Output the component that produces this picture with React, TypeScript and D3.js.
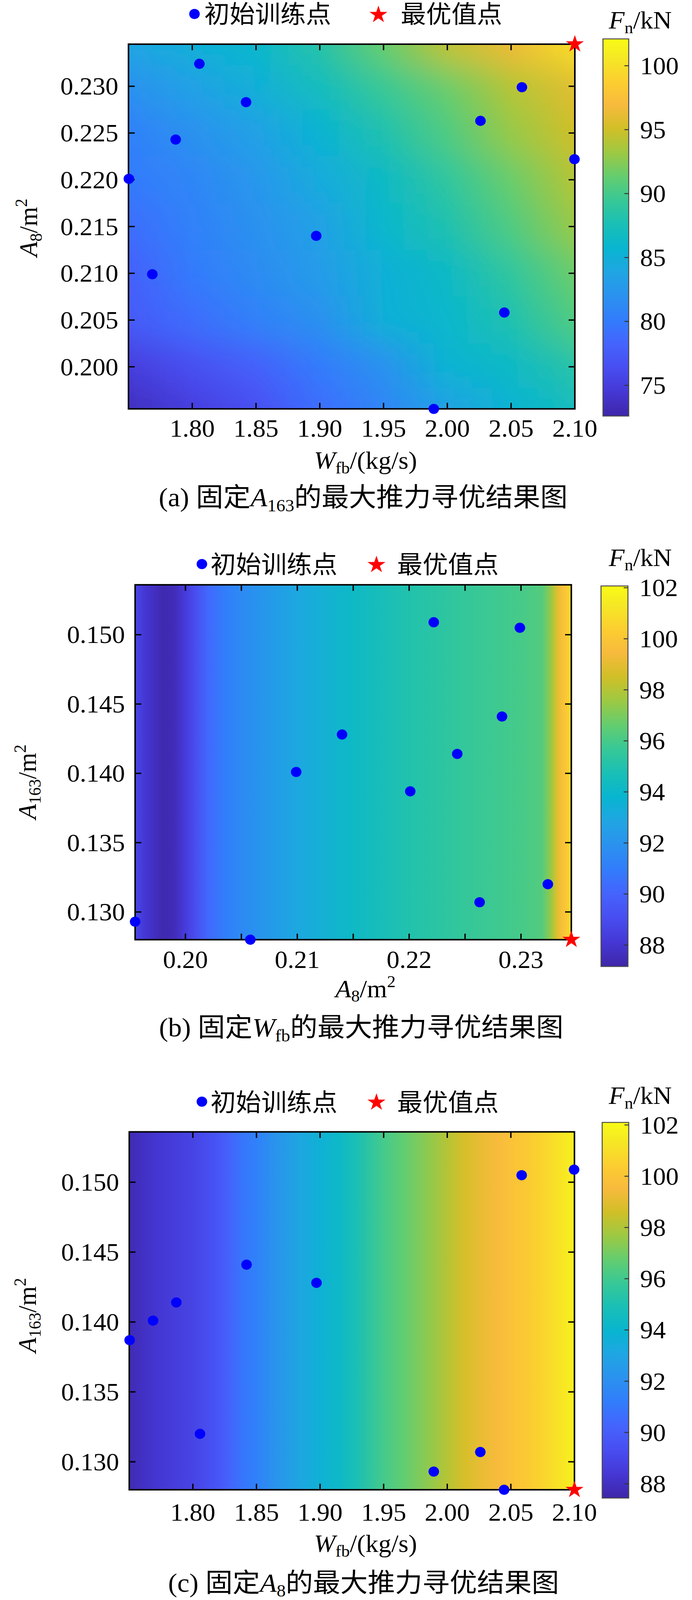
import React from 'react';
import * as d3 from 'd3';

// ---- data ----
// the same 11 initial training samples, projected on each plane
const trainW = [1.8056, 1.8422, 1.787, 1.7503, 1.7687, 1.8972, 2.026, 2.0585, 2.0997, 2.0447, 1.9894];
const trainA8 = [0.2324, 0.2283, 0.2243, 0.2201, 0.2099, 0.214, 0.2263, 0.2299, 0.2222, 0.2058, 0.1955];
const trainA163 = [0.132, 0.1441, 0.1414, 0.1387, 0.1401, 0.1428, 0.1307, 0.1505, 0.1509, 0.128, 0.1293];

// optimum point (red star)
const optW = 2.1;
const optA8 = 0.2345;
const optA163 = 0.128;

// panel (a): Fn over W x A8 (rows = A8, columns = W)
const gridWA = [1.75, 1.8, 1.85, 1.9, 1.95, 2.0, 2.05, 2.1];
const gridA8A = [0.2345, 0.23, 0.225, 0.22, 0.215, 0.21, 0.205, 0.2, 0.1955];
const fnGridA = [
  [84, 85, 86, 88.5, 91.5, 94.5, 96.5, 100],
  [82, 83.5, 85, 87, 89.5, 91.5, 94, 95.8],
  [80.5, 82, 83.5, 85.5, 88, 90.5, 93, 95],
  [80, 81, 82.5, 84.5, 86.5, 89, 91.5, 94],
  [79, 80.5, 82, 83.5, 86, 88, 90.5, 93],
  [78, 80, 81.5, 83, 85, 86.5, 89, 91.5],
  [77.5, 79, 80.5, 82, 85, 86, 88, 90.5],
  [75, 76.5, 78, 80, 82, 85.5, 86.5, 88.5],
  [73.5, 75, 76.5, 79, 81, 83.5, 85.5, 87],
];

// panel (b): Fn along A8 (constant along A163)
const profA8B = [0.1955, 0.1965, 0.198, 0.199, 0.2, 0.2008, 0.202, 0.2035, 0.205, 0.21, 0.2146, 0.22, 0.225, 0.23, 0.2319, 0.2327, 0.2332, 0.2337, 0.2345];
const profFnB = [88.8, 88.0, 87.3, 87.5, 88.3, 89.0, 90.2, 91.0, 91.6, 93.0, 94.1, 95.0, 95.6, 96.0, 96.3, 97.5, 98.8, 99.7, 100.8];

// panel (c): Fn along W (constant along A163)
const profWC = [1.75, 1.7716, 1.8, 1.8167, 1.8257, 1.839, 1.85, 1.866, 1.884, 1.9, 1.916, 1.93, 1.95, 1.966, 1.984, 2.0, 2.013, 2.027, 2.04, 2.05, 2.065, 2.081, 2.1];
const profFnC = [87.7, 88.3, 88.9, 89.5, 90.0, 90.9, 91.4, 92.3, 93.1, 93.7, 94.3, 95.0, 96.1, 96.7, 97.4, 98.1, 98.7, 99.2, 99.6, 99.9, 100.3, 100.9, 101.7];

// ticks
const ticksW = [1.8, 1.85, 1.9, 1.95, 2.0, 2.05, 2.1];
const ticksA8A = [0.2, 0.205, 0.21, 0.215, 0.22, 0.225, 0.23];
const ticksA8B = [0.2, 0.205, 0.21, 0.215, 0.22, 0.225, 0.23];
const labelsA8B = [0.2, 0.21, 0.22, 0.23];
const ticksA163 = [0.13, 0.135, 0.14, 0.145, 0.15];
const cTicksA = [75, 80, 85, 90, 95, 100];
const cTicksBC = [88, 90, 92, 94, 96, 98, 100, 102];

// MATLAB parula, sampled
const parulaIdx = [0, 4, 8, 12, 16, 20, 24, 28, 32, 36, 40, 44, 48, 52, 56, 60, 63];
const parulaRgb = [
  [0.2422, 0.1504, 0.6603], [0.2706, 0.2147, 0.8364], [0.2813, 0.3006, 0.9414], [0.2699, 0.3892, 0.9906],
  [0.1963, 0.4847, 0.9892], [0.1687, 0.5703, 0.9359], [0.1248, 0.6459, 0.8883], [0.0297, 0.7082, 0.8163],
  [0.0964, 0.75, 0.712], [0.2161, 0.7843, 0.5923], [0.3909, 0.8029, 0.4354], [0.6174, 0.7876, 0.2612],
  [0.8203, 0.7498, 0.1535], [0.9728, 0.7298, 0.2394], [0.9892, 0.8136, 0.1885], [0.9597, 0.9135, 0.1423],
  [0.9769, 0.9839, 0.0805],
];
const parulaHex = parulaRgb.map((c) => d3.rgb(c[0] * 255, c[1] * 255, c[2] * 255).formatHex());
const parula = d3.scaleLinear<string>()
  .domain(parulaIdx.map((i) => i / 63))
  .range(parulaHex)
  .interpolate(d3.interpolateRgb)
  .clamp(true);

// serif first, CJK glyphs fall back to Noto Sans CJK
const FONT = "'Liberation Serif', 'Times New Roman', 'Noto Sans CJK SC', serif";
const FS = 66;
const SUB = 44;
const W = 1772;
const H = 4238;

type Rect = { x0: number; y0: number; x1: number; y1: number };
type Lin = d3.ScaleLinear<number, number>;

interface Panel {
  id: string;
  plot: Rect;
  cbar: Rect;
  xDomain: [number, number];
  yDomain: [number, number];
  cDomain: [number, number];
  xTicks: number[];
  xLabels: number[];
  xFmt: string;
  yTicks: number[];
  cTicks: number[];
  px: number[];
  py: number[];
  star: [number, number];
  legendText: number;
  legendDot: number;
  legendX: [number, number, number, number];
  cTitleY: number;
  xTickY: number;
  xTitleY: number;
  yTitleX: number;
  yTitleY: number;
  captionY: number;
  captionX: number;
  heat: (x: Lin, y: Lin, color: (v: number) => string, p: Rect) => React.ReactNode;
  xTitle: React.ReactNode;
  yTitle: React.ReactNode;
  caption: React.ReactNode;
}

const gridHeat = (id: string, xs: number[], ys: number[], grid: number[][]) =>
  (x: Lin, y: Lin, color: (v: number) => string, p: Rect) => {
    const w = p.x1 - p.x0;
    return (
      <g>
        <defs>
          {grid.map((row, i) => (
            <linearGradient key={i} id={`${id}-r${i}`} gradientUnits="userSpaceOnUse" x1={p.x0} x2={p.x1} y1={0} y2={0}>
              {row.map((v, j) => (
                <stop key={j} offset={(x(xs[j]) - p.x0) / w} stopColor={color(v)} />
              ))}
            </linearGradient>
          ))}
          <filter id={`${id}-blur`} filterUnits="userSpaceOnUse" x={p.x0 - 20} y={p.y0 - 260} width={w + 40} height={p.y1 - p.y0 + 520}>
            <feGaussianBlur stdDeviation="0 44" />
          </filter>
          <clipPath id={`${id}-clip`}>
            <rect x={p.x0} y={p.y0} width={w} height={p.y1 - p.y0} />
          </clipPath>
        </defs>
        <g clipPath={`url(#${id}-clip)`}>
          <g filter={`url(#${id}-blur)`}>
            {ys.map((v, i) => {
              const top = i === 0 ? p.y0 - 200 : (y(ys[i - 1]) + y(v)) / 2;
              const bot = i === ys.length - 1 ? p.y1 + 200 : (y(v) + y(ys[i + 1])) / 2;
              return <rect key={i} x={p.x0} y={top} width={w} height={bot - top + 0.5} fill={`url(#${id}-r${i})`} />;
            })}
          </g>
        </g>
      </g>
    );
  };

const profileHeat = (id: string, xs: number[], vals: number[]) =>
  (x: Lin, _y: Lin, color: (v: number) => string, p: Rect) => {
    const w = p.x1 - p.x0;
    return (
      <g>
        <defs>
          <linearGradient id={`${id}-g`} gradientUnits="userSpaceOnUse" x1={p.x0} x2={p.x1} y1={0} y2={0}>
            {xs.map((v, i) => (
              <stop key={i} offset={(x(v) - p.x0) / w} stopColor={color(vals[i])} />
            ))}
          </linearGradient>
        </defs>
        <rect x={p.x0} y={p.y0} width={w} height={p.y1 - p.y0} fill={`url(#${id}-g)`} />
      </g>
    );
  };

const Sub = ({ t, d = 12 }: { t: string; d?: number }) => (
  <tspan fontSize={SUB} dy={d}>{t}</tspan>
);

const titleW = (
  <>
    <tspan fontStyle="italic">W</tspan>
    <Sub t="fb" />
    <tspan dy={-12}>/(kg/s)</tspan>
  </>
);
const titleA8 = (
  <>
    <tspan fontStyle="italic">A</tspan>
    <Sub t="8" />
    <tspan dy={-12}>/m</tspan>
    <tspan fontSize={SUB} dy={-26}>2</tspan>
  </>
);
const titleA163 = (
  <>
    <tspan fontStyle="italic">A</tspan>
    <Sub t="163" />
    <tspan dy={-12}>/m</tspan>
    <tspan fontSize={SUB} dy={-26}>2</tspan>
  </>
);

const caption = (tag: string, sym: string, sub: string) => (
  <>
    <tspan>({tag}) 固定</tspan>
    <tspan fontStyle="italic">{sym}</tspan>
    <tspan fontSize={46} dy={13}>{sub}</tspan>
    <tspan dy={-13}>的最大推力寻优结果图</tspan>
  </>
);

const panels: Panel[] = [
  {
    id: 'pa',
    plot: { x0: 329, y0: 117, x1: 1472, y1: 1083 },
    cbar: { x0: 1544, y0: 103, x1: 1610, y1: 1102 },
    xDomain: [1.75, 2.1],
    yDomain: [0.1955, 0.2345],
    cDomain: [72.6, 102.1],
    xTicks: ticksW,
    xLabels: ticksW,
    xFmt: '.2f',
    yTicks: ticksA8A,
    cTicks: cTicksA,
    px: trainW,
    py: trainA8,
    star: [optW, optA8],
    legendText: 60,
    legendDot: 37,
    legendX: [498, 523, 969, 1026],
    cTitleY: 76,
    xTickY: 1157,
    xTitleY: 1242,
    yTitleX: 95,
    yTitleY: 603,
    captionY: 1341,
    captionX: 930,
    heat: gridHeat('pa', gridWA, gridA8A, fnGridA),
    xTitle: titleW,
    yTitle: titleA8,
    caption: caption('a', 'A', '163'),
  },
  {
    id: 'pb',
    plot: { x0: 346, y0: 1549, x1: 1463, y1: 2489 },
    cbar: { x0: 1539, y0: 1552, x1: 1608, y1: 2560 },
    xDomain: [0.1955, 0.2345],
    yDomain: [0.128, 0.1536],
    cDomain: [87.16, 102.07],
    xTicks: ticksA8B,
    xLabels: labelsA8B,
    xFmt: '.2f',
    yTicks: ticksA163,
    cTicks: cTicksBC,
    px: trainA8,
    py: trainA163,
    star: [optA8, optA163],
    legendText: 1518,
    legendDot: 1494,
    legendX: [517, 539, 964, 1017],
    cTitleY: 1499,
    xTickY: 2564,
    xTitleY: 2641,
    yTitleX: 92,
    yTitleY: 2071,
    captionY: 2745,
    captionX: 925,
    heat: profileHeat('pb', profA8B, profFnB),
    xTitle: titleA8,
    yTitle: titleA163,
    caption: caption('b', 'W', 'fb'),
  },
  {
    id: 'pc',
    plot: { x0: 331, y0: 2998, x1: 1471, y1: 3946 },
    cbar: { x0: 1542, y0: 2973, x1: 1610, y1: 3968 },
    xDomain: [1.75, 2.1],
    yDomain: [0.128, 0.1536],
    cDomain: [87.44, 102.1],
    xTicks: ticksW,
    xLabels: ticksW,
    xFmt: '.2f',
    yTicks: ticksA163,
    cTicks: cTicksBC,
    px: trainW,
    py: trainA163,
    star: [optW, optA163],
    legendText: 2943,
    legendDot: 2918,
    legendX: [517, 539, 964, 1017],
    cTitleY: 2924,
    xTickY: 4028,
    xTitleY: 4111,
    yTitleX: 92,
    yTitleY: 3484,
    captionY: 4216,
    captionX: 931,
    heat: profileHeat('pc', profWC, profFnC),
    xTitle: titleW,
    yTitle: titleA163,
    caption: caption('c', 'A', '8'),
  },
];

const starPath = d3.symbol(d3.symbolStar, 660)() as string;
const TICK = 16;

const PanelView = ({ cfg }: { cfg: Panel }) => {
  const p = cfg.plot;
  const cb = cfg.cbar;
  const x = d3.scaleLinear().domain(cfg.xDomain).range([p.x0, p.x1]);
  const y = d3.scaleLinear().domain(cfg.yDomain).range([p.y1, p.y0]);
  const cNorm = d3.scaleLinear().domain(cfg.cDomain).range([0, 1]);
  const color = (v: number) => parula(cNorm(v));
  const cY = d3.scaleLinear().domain(cfg.cDomain).range([cb.y1, cb.y0]);
  const fx = d3.format(cfg.xFmt);
  const fy = d3.format('.3f');
  const [dotX, t1X, starX, t2X] = cfg.legendX;

  return (
    <g fontFamily={FONT}>
      {/* legend */}
      <circle cx={dotX} cy={cfg.legendDot} r={13.5} fill="#0000ff" />
      <text x={t1X} y={cfg.legendText} fontSize={65}>初始训练点</text>
      <path d={starPath} transform={`translate(${starX},${cfg.legendDot + 2})`} fill="#ff0000" />
      <text x={t2X} y={cfg.legendText} fontSize={65}>最优值点</text>

      {/* field */}
      {cfg.heat(x, y, color, p)}

      {/* frame and ticks */}
      <rect x={p.x0} y={p.y0} width={p.x1 - p.x0} height={p.y1 - p.y0} fill="none" stroke="#000" strokeWidth={4} />
      {cfg.xTicks.map((t) => (
        <g key={`xt${t}`} stroke="#000" strokeWidth={3.5}>
          <line x1={x(t)} x2={x(t)} y1={p.y1} y2={p.y1 - TICK} />
          <line x1={x(t)} x2={x(t)} y1={p.y0} y2={p.y0 + TICK} />
        </g>
      ))}
      {cfg.yTicks.map((t) => (
        <g key={`yt${t}`} stroke="#000" strokeWidth={3.5}>
          <line x1={p.x0} x2={p.x0 + TICK} y1={y(t)} y2={y(t)} />
          <line x1={p.x1} x2={p.x1 - TICK} y1={y(t)} y2={y(t)} />
        </g>
      ))}
      {cfg.xLabels.map((t) => (
        <text key={`xl${t}`} x={x(t)} y={cfg.xTickY} textAnchor="middle" fontSize={FS}>{fx(t)}</text>
      ))}
      {cfg.yTicks.map((t) => (
        <text key={`yl${t}`} x={p.x0 - 26} y={y(t)} textAnchor="end" dominantBaseline="central" fontSize={FS}>{fy(t)}</text>
      ))}

      {/* axis titles */}
      <text x={936} y={cfg.xTitleY} textAnchor="middle" fontSize={FS}>{cfg.xTitle}</text>
      <text transform={`translate(${cfg.yTitleX},${cfg.yTitleY}) rotate(-90)`} textAnchor="middle" fontSize={FS}>{cfg.yTitle}</text>

      {/* training points and optimum */}
      {cfg.px.map((v, i) => (
        <circle key={`pt${i}`} cx={x(v)} cy={y(cfg.py[i])} r={13.5} fill="#0000ff" />
      ))}
      <path d={starPath} transform={`translate(${x(cfg.star[0])},${y(cfg.star[1])})`} fill="#ff0000" />

      {/* colorbar */}
      <defs>
        <linearGradient id={`${cfg.id}-cb`} x1="0" y1="1" x2="0" y2="0">
          {parulaIdx.map((idx, i) => (
            <stop key={i} offset={idx / 63} stopColor={parulaHex[i]} />
          ))}
        </linearGradient>
      </defs>
      <rect x={cb.x0} y={cb.y0} width={cb.x1 - cb.x0} height={cb.y1 - cb.y0} fill={`url(#${cfg.id}-cb)`} stroke="#4a4a4a" strokeWidth={2.5} />
      {cfg.cTicks.map((t) => (
        <g key={`ct${t}`}>
          <line x1={cb.x1} x2={cb.x1 - 11} y1={cY(t)} y2={cY(t)} stroke="#333" strokeWidth={2.5} />
          <text x={cb.x1 + 29} y={cY(t)} dominantBaseline="central" fontSize={FS}>{t}</text>
        </g>
      ))}
      <text x={1559} y={cfg.cTitleY} fontSize={FS}>
        <tspan fontStyle="italic">F</tspan>
        <Sub t="n" d={12} />
        <tspan dy={-12}>/kN</tspan>
      </text>

      {/* caption */}
      <text x={cfg.captionX} y={cfg.captionY} textAnchor="middle" fontSize={70}>{cfg.caption}</text>
    </g>
  );
};

// the figure is laid out on a 1772 x 4238 canvas and stretched to the visible window
const App: React.FC = () => (
  <svg
    viewBox={`0 0 ${W} ${H}`}
    preserveAspectRatio="none"
    style={{ position: 'fixed', left: 0, top: 0, width: '100vw', height: '100vh', display: 'block', background: '#fff' }}
  >
    <rect width={W} height={H} fill="#fff" />
    {panels.map((cfg) => (
      <PanelView key={cfg.id} cfg={cfg} />
    ))}
  </svg>
);

export default App;
